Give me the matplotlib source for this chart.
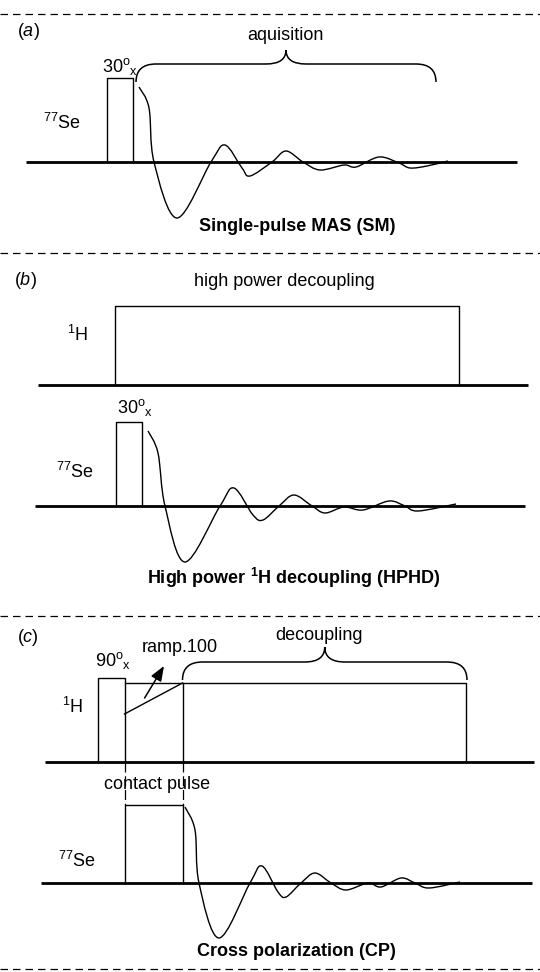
import numpy as np
import matplotlib.pyplot as plt
from matplotlib.path import Path
from matplotlib.patches import PathPatch

plt.rcParams['font.family'] = ['Liberation Sans', 'DejaVu Sans']
plt.rcParams['mathtext.fontset'] = 'custom'
plt.rcParams['mathtext.rm'] = 'Liberation Sans'
plt.rcParams['mathtext.it'] = 'Liberation Sans:italic'
plt.rcParams['mathtext.bf'] = 'Liberation Sans:bold'

# pulse timings (x in px, y in px from top)
# panel (a): single pulse on 77Se
se_base_a = 162
pulse_a = [107, 133, 78]            # start, end, top
fid_a_x = [139, 149, 154, 177, 211, 225, 242, 250, 272, 286, 303, 320, 344, 356, 379, 399, 410, 427, 448]
fid_a_y = [87, 108, 162, 218, 162, 145, 168, 176, 162, 151, 162, 170, 165, 167, 157, 163, 168, 166, 161]

# panel (b): 1H decoupling + 77Se pulse
h_base_b = 385
decoup_b = [115, 459, 306]
se_base_b = 506
pulse_b = [116, 142, 422]
fid_b_x = [148, 158, 165, 185, 220, 234, 253, 263, 279, 294, 312, 325, 344, 363, 389, 405, 418, 456]
fid_b_y = [431, 453, 506, 562, 506, 488, 515, 520, 506, 495, 506, 513, 507, 510, 501, 506, 511, 504]

# panel (c): cross polarization
h_base_c = 762
pulse90_c = [98, 124.5, 678]
ramp_c = [124.5, 182.5, 714, 683]   # start, end, low, high
decoup_c = [182.5, 466, 683]
se_base_c = 883
contact_c = [124.5, 182.5, 805]
fid_c_x = [185, 195, 199, 219, 250, 262, 278, 286, 301, 315, 331, 346, 368, 381, 401, 415, 429, 460]
fid_c_y = [807, 830, 883, 938, 883, 866, 892, 897, 883, 873, 883, 890, 883, 887, 878, 883, 888, 882]

separators = [14, 253, 616, 969]

FS = 13


def smooth(ax, xs, ys, **kw):
    pts = np.column_stack([xs, ys]).astype(float)
    verts = [pts[0]]
    codes = [Path.MOVETO]
    n = len(pts)
    for i in range(n - 1):
        p0 = pts[max(i - 1, 0)]
        p1 = pts[i]
        p2 = pts[i + 1]
        p3 = pts[min(i + 2, n - 1)]
        verts += [p1 + (p2 - p0) / 6, p2 - (p3 - p1) / 6, p2]
        codes += [Path.CURVE4] * 3
    ax.add_patch(PathPatch(Path(verts, codes), fill=False, lw=1.0, **kw))


def box(ax, x0, x1, base, top):
    ax.plot([x0, x0, x1, x1], [base, top, top, base], color='k', lw=1.0)


def brace(ax, x0, x1, y_end, y_line, y_tip, r=20):
    xm = (x0 + x1) / 2
    verts = [(x0, y_end), (x0, y_line), (x0 + r, y_line),
             (xm - r, y_line), (xm, y_line), (xm, y_tip),
             (xm, y_line), (xm + r, y_line),
             (x1 - r, y_line), (x1, y_line), (x1, y_end)]
    codes = [Path.MOVETO, Path.CURVE3, Path.CURVE3,
             Path.LINETO, Path.CURVE3, Path.CURVE3,
             Path.CURVE3, Path.CURVE3,
             Path.LINETO, Path.CURVE3, Path.CURVE3]
    ax.add_patch(PathPatch(Path(verts, codes), fill=False, lw=1.1, color='k'))


def baseline(ax, x0, x1, y):
    ax.plot([x0, x1], [y, y], color='k', lw=2.0, solid_capstyle='butt')


fig = plt.figure(figsize=(5.4, 9.72), dpi=100)
ax = fig.add_axes([0, 0, 1, 1])
ax.set_xlim(0, 540)
ax.set_ylim(972, 0)
ax.axis('off')

for y in separators:
    ax.plot([0, 540], [y, y], color='k', lw=0.9, dashes=(6, 4))

# ---- (a)
ax.text(17, 32, r'($\mathit{a}$)', fontsize=FS, va='center')
baseline(ax, 26, 517, se_base_a)
box(ax, pulse_a[0], pulse_a[1], se_base_a, pulse_a[2])
ax.text(102, 72, r'30$^{\rm o}$$_{\rm x}$', fontsize=FS, va='baseline')
brace(ax, 136, 436, 82, 64, 50)
ax.text(285, 36, 'aquisition', fontsize=FS, ha='center', va='center')
ax.text(43, 129, r'$^{77}$Se', fontsize=FS, va='baseline')
smooth(ax, fid_a_x, fid_a_y, color='k')
ax.text(297, 226, 'Single-pulse MAS (SM)', fontsize=FS, fontweight='bold',
        ha='center', va='center')

# ---- (b)
ax.text(14, 280, r'($\mathit{b}$)', fontsize=FS, va='center')
ax.text(284, 281, 'high power decoupling', fontsize=FS, ha='center', va='center')
baseline(ax, 38, 528, h_base_b)
box(ax, decoup_b[0], decoup_b[1], h_base_b, decoup_b[2])
ax.text(67, 341, r'$^{1}$H', fontsize=FS, va='baseline')
baseline(ax, 35, 525, se_base_b)
box(ax, pulse_b[0], pulse_b[1], se_base_b, pulse_b[2])
ax.text(117, 413, r'30$^{\rm o}$$_{\rm x}$', fontsize=FS, va='baseline')
ax.text(56, 478, r'$^{77}$Se', fontsize=FS, va='baseline')
smooth(ax, fid_b_x, fid_b_y, color='k')
ax.text(294, 578, r'High power $^{\mathbf{1}}$H decoupling (HPHD)', fontsize=FS,
        fontweight='bold', ha='center', va='center')

# ---- (c)
ax.text(17, 637, r'($\mathit{c}$)', fontsize=FS, va='center')
baseline(ax, 45, 534, h_base_c)
box(ax, pulse90_c[0], pulse90_c[1], h_base_c, pulse90_c[2])
ax.plot([ramp_c[0], ramp_c[1]], [ramp_c[3], ramp_c[3]], color='k', lw=1.0)
ax.plot([ramp_c[0], ramp_c[1]], [ramp_c[2], ramp_c[3]], color='k', lw=1.0)
box(ax, decoup_c[0], decoup_c[1], h_base_c, decoup_c[2])
ax.annotate('', xy=(164, 666), xytext=(144.6, 698),
            arrowprops=dict(arrowstyle='-|>,head_length=0.9,head_width=0.35',
                            color='k', lw=1.1, shrinkA=0, shrinkB=0))
ax.text(180, 647, 'ramp.100', fontsize=FS, ha='center', va='center')
ax.text(95, 666, r'90$^{\rm o}$$_{\rm x}$', fontsize=FS, va='baseline')
brace(ax, 182.5, 467, 680, 662, 647)
ax.text(319, 635, 'decoupling', fontsize=FS, ha='center', va='center')
ax.text(62, 713, r'$^{1}$H', fontsize=FS, va='baseline')
for x in ramp_c[:2]:
    ax.plot([x, x], [h_base_c, contact_c[2]], color='k', lw=0.9, dashes=(8, 3))
ax.text(157.5, 784, 'contact pulse', fontsize=FS, ha='center', va='center')
baseline(ax, 41, 532, se_base_c)
box(ax, contact_c[0], contact_c[1], se_base_c, contact_c[2])
ax.text(58, 867, r'$^{77}$Se', fontsize=FS, va='baseline')
smooth(ax, fid_c_x, fid_c_y, color='k')
ax.text(296, 951, 'Cross polarization (CP)', fontsize=FS, fontweight='bold',
        ha='center', va='center')

fig.savefig('out.png', dpi=100)
